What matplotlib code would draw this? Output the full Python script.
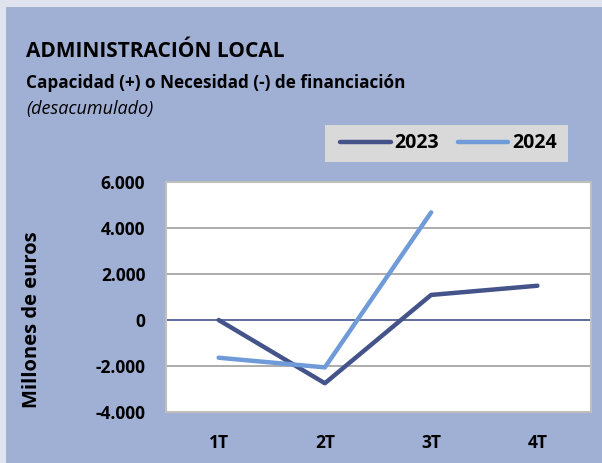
import matplotlib
matplotlib.use("Agg")
import matplotlib.pyplot as plt
from matplotlib.patches import Rectangle

plt.rcParams['font.family'] = ['Open Sans', 'DejaVu Sans']

trimestres = ["1T", "2T", "3T", "4T"]
v2023 = [0, -2750, 1090, 1490]
v2024 = [-1640, -2060, 4680]
yticks = [-4000, -2000, 0, 2000, 4000, 6000]
ylabels = ["-4.000", "-2.000", "0", "2.000", "4.000", "6.000"]

c2023 = "#44548a"
c2024 = "#6f9bd8"
panel = "#a0afd4"

W, H = 602, 463
fig = plt.figure(figsize=(W / 100, H / 100), dpi=100)
fig.patch.set_facecolor("#dfe3ee")
fig.patches.append(Rectangle((6 / W, 0), 1, 1 - 7 / H, transform=fig.transFigure,
                             facecolor=panel, edgecolor="none", zorder=-5))
# fondo de la leyenda
fig.patches.append(Rectangle((325 / W, 1 - 162 / H), 243 / W, 37 / H, transform=fig.transFigure,
                             facecolor="#d9d9d9", edgecolor="none", zorder=-4))

ax = fig.add_axes([165.5 / W, (H - 412) / H, 425 / W, 230 / H])
ax.set_facecolor("white")
x = range(len(trimestres))
ax.plot(x, v2023, color=c2023, lw=3.2, solid_capstyle="round", label="2023", zorder=3)
ax.plot(x[:len(v2024)], v2024, color=c2024, lw=3.2, solid_capstyle="round", label="2024", zorder=3)
ax.set_xlim(-0.5, 3.5)
ax.set_ylim(-4000, 6000)
ax.set_yticks(yticks)
ax.set_yticklabels(ylabels, fontsize=12.5, fontweight="bold")
ax.set_xticks(list(x))
ax.set_xticklabels(trimestres, fontsize=12.5, fontweight="bold")
ax.tick_params(length=0)
ax.tick_params(axis="y", pad=14.5)
ax.tick_params(axis="x", pad=16)
for t in yticks:
    if t == 0:
        ax.axhline(0, color=c2023, lw=1.2, zorder=2)
    elif t != -4000 and t != 6000:
        ax.axhline(t, color="#a6a6a6", lw=1.3, zorder=1)
for s in ax.spines.values():
    s.set_color("#bfbfbf")
    s.set_linewidth(1.5)
ax.set_ylabel("Millones de euros", fontsize=14.5, fontweight="bold")
ax.yaxis.set_label_coords(-0.29, 0.4)

fig.text(26 / W, 1 - 57 / H, "ADMINISTRACIÓN LOCAL", fontsize=15, fontweight="bold")
fig.text(26 / W, 1 - 88 / H, "Capacidad (+) o Necesidad (-) de financiación", fontsize=12.3, fontweight="bold")
fig.text(26 / W, 1 - 114 / H, "(desacumulado)", fontsize=13, style="italic")

leg = fig.legend(loc="center left", bbox_to_anchor=(340 / W, 1 - 143.5 / H), ncol=2,
                 prop={"size": 14, "weight": "bold"}, frameon=False,
                 handlelength=2.6, columnspacing=0.95, handletextpad=0.2,
                 borderpad=0, borderaxespad=0)

fig.savefig("out.png", dpi=100, facecolor=fig.get_facecolor())
